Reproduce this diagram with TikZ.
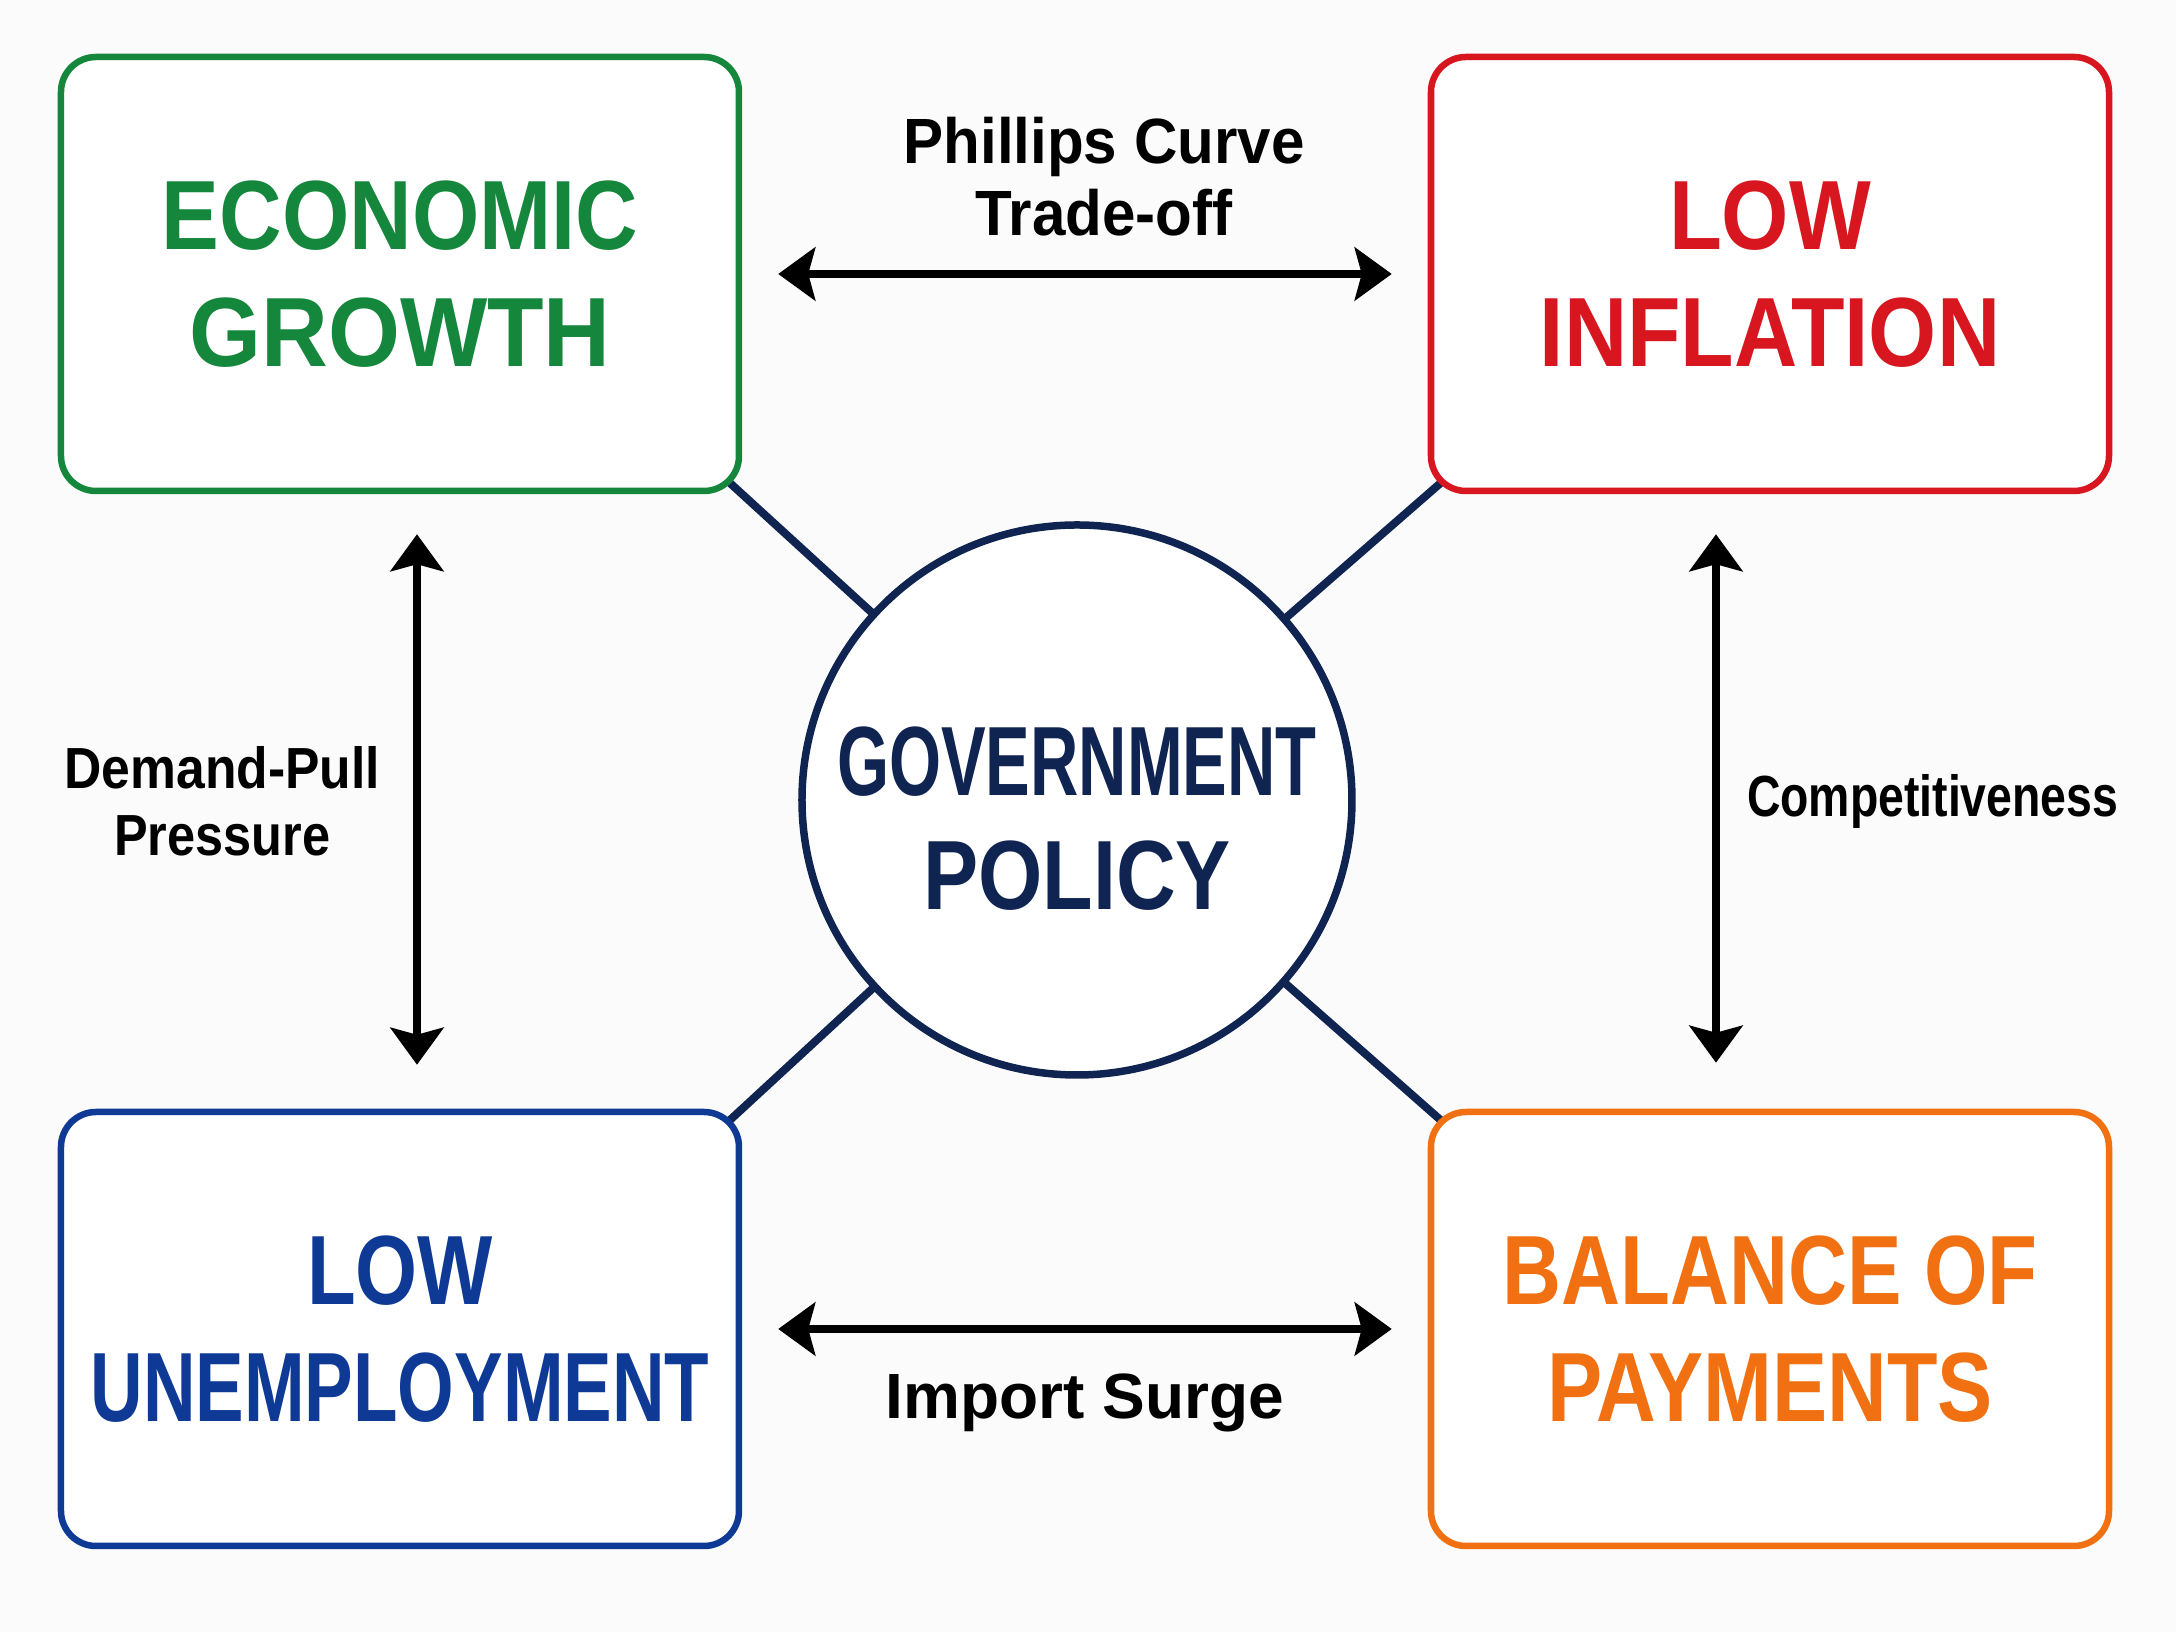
\documentclass[tikz,border=0pt]{standalone}
\usepackage{fontspec}
\setmainfont{Liberation Sans}
\usepackage{graphicx}
\usetikzlibrary{arrows.meta,backgrounds}
\definecolor{growthgreen}{RGB}{20,135,60}
\definecolor{inflred}{RGB}{215,22,32}
\definecolor{jobsblue}{RGB}{14,58,150}
\definecolor{boporange}{RGB}{240,112,18}
\definecolor{policynavy}{RGB}{16,36,82}
\definecolor{paper}{RGB}{251,251,251}
\newcommand{\squeeze}[2]{\scalebox{#1}[1]{#2}}

\begin{document}
\begin{tikzpicture}[node distance = 5cm,
	goal/.style={draw=#1, text=#1, fill=white, line width=0.065cm, rounded corners=0.35cm, minimum width=6.78cm, minimum height=4.34cm, inner sep=0pt, align=center, font=\bfseries\fontsize{28}{33.3}\selectfont},
	hub/.style={circle, draw=policynavy, text=policynavy, fill=white, line width=0.075cm, minimum size=5.5cm, inner sep=0pt, align=center, text height=62.4pt, font=\bfseries\fontsize{28}{32.2}\selectfont},
	link/.style={draw=policynavy, line width=0.08cm, shorten >=-0.25cm},
	twoway/.style={>={Stealth[length=0.37cm,width=0.53cm,inset=0.07cm]}, <->, line width=0.08cm},
	note/.style={inner sep=0pt, align=center, font=\bfseries\fontsize{18.2}{20.5}\selectfont},
	sidenote/.style={inner sep=0pt, align=center, font=\bfseries\fontsize{16.5}{19}\selectfont}]
	\path[use as bounding box] (-10.77,-8.32) rectangle (10.99,8.00);

	\node[hub] (policy) {\squeeze{0.68}{GOVERNMENT}\\\squeeze{0.84}{POLICY}};
	\coordinate[above of=policy,node distance=5.26cm] (upper);
	\coordinate[below of=policy,node distance=5.29cm] (lower);

	\node[goal=growthgreen, left of=upper,node distance=6.77cm] (growth) {\squeeze{0.88}{ECONOMIC}\\\squeeze{0.94}{GROWTH}};
	\node[goal=inflred, right of=upper,node distance=6.93cm] (inflation) {\squeeze{0.88}{LOW}\\\squeeze{0.89}{INFLATION}};
	\node[goal=jobsblue, left of=lower,node distance=6.77cm] (jobs) {\squeeze{0.81}{LOW}\\\squeeze{0.74}{UNEMPLOYMENT}};
	\node[goal=boporange, right of=lower,node distance=6.93cm] (payments) {\squeeze{0.83}{BALANCE OF}\\\squeeze{0.84}{PAYMENTS}};

	\begin{scope}[on background layer]
	\fill[paper] (-10.77,-8.32) rectangle (10.99,8.00);
	\draw[link] (policy.center) -- (growth.south east);
	\draw[link] (policy.center) -- (inflation.south west);
	\draw[link] (policy.center) -- (jobs.north east);
	\draw[link] (policy.center) -- (payments.north west);
	\end{scope}

	\draw[twoway, shorten <=0.36cm, shorten >=0.36cm] (growth.east) -- (inflation.west)
		node[note, midway, above=0.34cm, xshift=0.19cm] (phillips) {\squeeze{0.94}{Phillips Curve}\\\squeeze{0.94}{Trade-off}};
	\draw[twoway, shorten <=0.36cm, shorten >=0.36cm] (jobs.east) -- (payments.west)
		node[note, midway, below=0.41cm] (surge) {Import Surge};
	\draw[twoway, shorten <=0.40cm, shorten >=0.44cm] ([xshift=0.17cm]growth.south) -- ([xshift=0.17cm]jobs.north)
		node[sidenote, midway, left=0.33cm] (demand) {\squeeze{0.89}{Demand-Pull}\\\squeeze{0.87}{Pressure}};
	\draw[twoway, shorten <=0.40cm, shorten >=0.46cm] ([xshift=-0.54cm]inflation.south) -- ([xshift=-0.54cm]payments.north)
		node[sidenote, midway, right=0.27cm] (compete) {\squeeze{0.80}{Competitiveness}};
\end{tikzpicture}
\end{document}
